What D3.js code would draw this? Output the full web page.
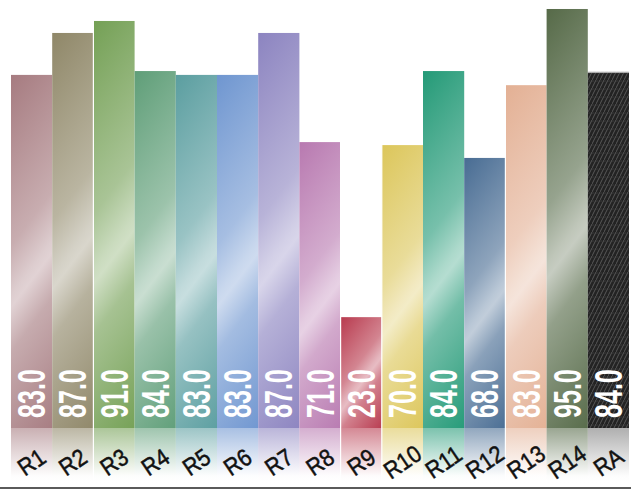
<!DOCTYPE html>
<html>
<head>
<meta charset="utf-8">
<script src="https://cdn.jsdelivr.net/npm/d3@7"></script>
<style>
  html, body { margin: 0; padding: 0; background: #fff; }
  svg { display: block; }
  text { font-family: "Liberation Sans", Arial, sans-serif; }
</style>
</head>
<body>
<svg id="chart"></svg>
<script>
// categories, printed scores and bar heights (heights, % of plot height)
var categories = ['R1', 'R2', 'R3', 'R4', 'R5', 'R6', 'R7', 'R8', 'R9', 'R10', 'R11', 'R12', 'R13', 'R14', 'RA'];
var scores = [83, 87, 91, 84, 83, 83, 87, 71, 23, 70, 84, 68, 83, 95, 84];
var barLevels = [82.5, 92.3, 95.1, 83.4, 82.5, 82.5, 92.3, 66.8, 25.9, 66.1, 83.4, 63.1, 80.1, 97.9, 83.2];
var barColors = ['#a67b80', '#8f8768', '#74a055', '#5f9e78', '#5b9ea0', '#6f96d0', '#8c84c0', '#b879b0',
                 '#b83a4e', '#dcc65a', '#249a77', '#486c93', '#e3b094', '#566a48', '#222222'];
var groupBreaks = ['R2', 'R8', 'R9', 'R12'];

(function () {
    var width = 637, height = 490;
    var base = 428, reflectH = 56;

    var svg = d3.select('#chart')
        .attr('width', width)
        .attr('height', height);

    var x = d3.scaleBand()
        .domain(categories)
        .range([11, 629])
        .padding(0);

    var y = d3.scaleLinear()
        .domain([0, 100])
        .range([base, 0]);

    var data = categories.map(function (c, i) {
        return { cat: c, score: scores[i], level: barLevels[i], color: barColors[i], i: i };
    });

    var defs = svg.append('defs');
    function mix(c, k) { return d3.interpolateRgb(c, '#fff')(k); }

    // carbon pattern for RA
    var pat = defs.append('pattern')
        .attr('id', 'carbon')
        .attr('patternUnits', 'userSpaceOnUse')
        .attr('width', 4).attr('height', 8);
    pat.append('rect').attr('width', 4).attr('height', 8).attr('fill', '#232323');
    pat.append('rect').attr('width', 2).attr('height', 2).attr('fill', '#2e2e2e');
    pat.append('path').attr('d', 'M-1,10 L5,-2').attr('stroke', '#5c5c5c').attr('stroke-width', 0.9);

    // one diagonal sheen gradient per bar
    data.forEach(function (d) {
        var x0 = x(d.cat), top = y(d.level), w = x.bandwidth(), h = base - top;
        var L = 0.8 * w + 0.6 * h;
        var g = defs.append('linearGradient')
            .attr('id', 'grad' + d.i)
            .attr('gradientUnits', 'userSpaceOnUse')
            .attr('x1', x0).attr('y1', top)
            .attr('x2', x0 + 0.8 * L).attr('y2', top + 0.6 * L);
        [[0, 0], [0.42, 0.38], [0.54, 0.62], [0.57, 0.66], [0.68, 0.36], [1, 0.02]].forEach(function (s) {
            g.append('stop').attr('offset', s[0]).attr('stop-color', mix(d.color, s[1]));
        });

        var r = defs.append('linearGradient')
            .attr('id', 'refl' + d.i)
            .attr('x1', 0).attr('y1', 0).attr('x2', 0).attr('y2', 1);
        var rc = d.cat === 'RA' ? '#7a7a7a' : d.color;
        r.append('stop').attr('offset', 0).attr('stop-color', rc).attr('stop-opacity', 0.6);
        r.append('stop').attr('offset', 0.85).attr('stop-color', rc).attr('stop-opacity', 0.02);
        r.append('stop').attr('offset', 1).attr('stop-color', '#fff').attr('stop-opacity', 0);
    });

    // reflections
    svg.selectAll('.refl')
        .data(data)
        .enter().append('rect')
            .attr('class', 'refl')
            .attr('x', function (d) { return x(d.cat); })
            .attr('y', base)
            .attr('width', x.bandwidth())
            .attr('height', reflectH)
            .attr('fill', function (d) { return 'url(#refl' + d.i + ')'; });

    // bars
    svg.selectAll('.bar')
        .data(data)
        .enter().append('rect')
            .attr('class', 'bar')
            .attr('x', function (d) { return x(d.cat); })
            .attr('y', function (d) { return y(d.level); })
            .attr('width', x.bandwidth())
            .attr('height', function (d) { return base - y(d.level); })
            .attr('fill', function (d) { return d.cat === 'RA' ? 'url(#carbon)' : 'url(#grad' + d.i + ')'; });

    // light top edge on the carbon bar
    svg.selectAll('.edge')
        .data(data.filter(function (d) { return d.cat === 'RA'; }))
        .enter().append('line')
            .attr('class', 'edge')
            .attr('x1', function (d) { return x(d.cat); })
            .attr('x2', function (d) { return x(d.cat) + x.bandwidth(); })
            .attr('y1', function (d) { return y(d.level) + 0.5; })
            .attr('y2', function (d) { return y(d.level) + 0.5; })
            .attr('stroke', '#bbb');

    // white separators between some groups
    svg.selectAll('.sep')
        .data(groupBreaks)
        .enter().append('line')
            .attr('class', 'sep')
            .attr('x1', function (c) { return x(c) + x.bandwidth(); })
            .attr('x2', function (c) { return x(c) + x.bandwidth(); })
            .attr('y1', 0)
            .attr('y2', base + reflectH + 4)
            .attr('stroke', '#fff')
            .attr('stroke-width', 1.2);

    // value labels
    svg.selectAll('.val')
        .data(data)
        .enter().append('text')
            .attr('class', 'val')
            .attr('transform', function (d) {
                return 'translate(' + (x(d.cat) + x.bandwidth() / 2 + 13.5) + ',' + (base - 10) + ') rotate(-90) scale(0.66,1)';
            })
            .attr('fill', '#fff')
            .attr('font-size', 38)
            .attr('font-weight', 'bold')
            .text(function (d) { return d.score.toFixed(1); });

    // category labels
    svg.selectAll('.cat')
        .data(data)
        .enter().append('text')
            .attr('class', 'cat')
            .attr('transform', function (d) {
                return 'translate(' + (x(d.cat) + x.bandwidth() / 2) + ',' + 462 + ') rotate(-34) scale(0.9,1)';
            })
            .attr('text-anchor', 'middle')
            .attr('dy', '0.35em')
            .attr('fill', '#111')
            .attr('stroke', '#111')
            .attr('stroke-width', 0.5)
            .attr('font-size', 24)
            .text(function (d) { return d.cat; });

    // bottom axis line
    svg.append('line')
        .attr('x1', 0).attr('x2', 631)
        .attr('y1', 488).attr('y2', 488)
        .attr('stroke', '#5a5a5a')
        .attr('stroke-width', 2);
}());
</script>
</body>
</html>
